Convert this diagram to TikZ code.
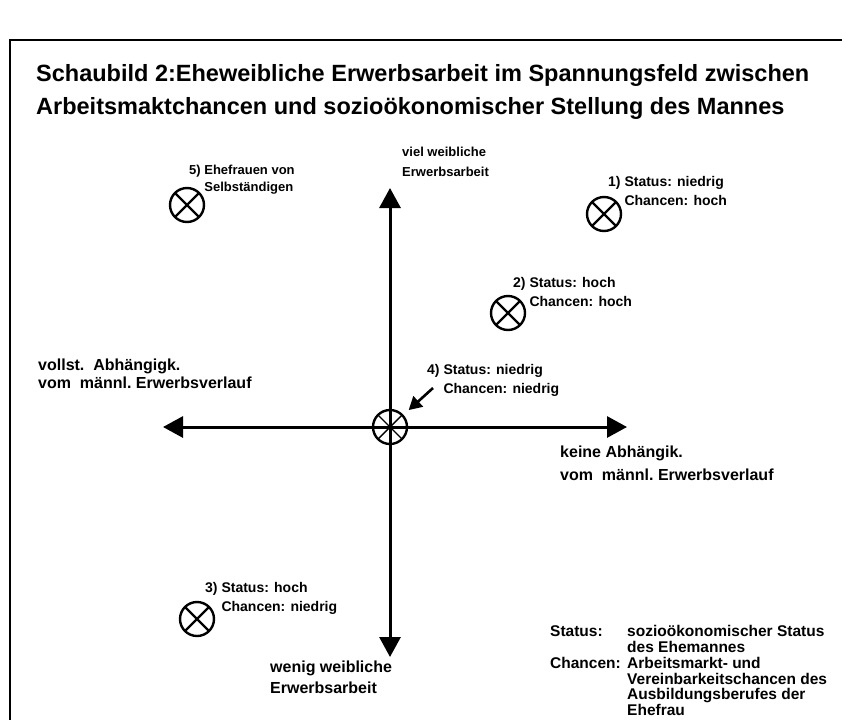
\documentclass[tikz,border=0pt]{standalone}
\usepackage{fontspec}
\setmainfont{Liberation Sans}
\usetikzlibrary{arrows.meta}

\tikzset{
	lbl/.style={font=\bfseries\fontsize{14}{19}\selectfont, align=left, inner sep=0pt, anchor=west},
	axislbl/.style={font=\bfseries\fontsize{16}{20}\selectfont, align=left, inner sep=0pt, anchor=west},
	crossmark/.style={circle, draw, line width=2.4pt, minimum size=34pt, inner sep=0pt,
		path picture={\draw[line width=2.4pt] (path picture bounding box.north west) -- (path picture bounding box.south east)
			(path picture bounding box.north east) -- (path picture bounding box.south west);}},
	wheel/.style={circle, draw, line width=2.4pt, minimum size=34pt, inner sep=0pt,
		path picture={\draw[line width=1.4pt] (path picture bounding box.north west) -- (path picture bounding box.south east)
			(path picture bounding box.north east) -- (path picture bounding box.south west);}},
	axis/.style={line width=3pt, {Triangle[length=20pt,width=21pt]}-{Triangle[length=20pt,width=21pt]}},
	pointer/.style={line width=2.6pt, -{Triangle[length=13pt,width=14pt]}}
}

\begin{document}
\begin{tikzpicture}[x=1pt,y=-1pt]
	\useasboundingbox (0,0) rectangle (842,720);
	\draw[line width=1.6pt] (842,40) -- (10,40) -- (10,720);

	\node[font=\bfseries\fontsize{23.5}{33}\selectfont, align=left, inner sep=0pt, anchor=west] (title) at (36,91.5)
		{Schaubild 2:Eheweibliche Erwerbsarbeit im Spannungsfeld zwischen\\
		 Arbeitsmaktchancen und sozioökonomischer Stellung des Mannes};

	% axes
	\coordinate (top) at (390,188);
	\coordinate (bottom) at (390,657);
	\coordinate (left) at (163,427);
	\coordinate (right) at (627,427);
	\draw[axis] (bottom) -- (top);
	\draw[axis] (left) -- (right);
	\node[wheel] (ctr) at (390,427) {};

	\node[lbl, font=\bfseries\fontsize{13}{20}\selectfont] (viel) at (402,162) {viel weibliche\\Erwerbsarbeit};
	\node[axislbl, font=\bfseries\fontsize{16}{21}\selectfont] (wenig) at (270,677.5) {wenig weibliche\\Erwerbsarbeit};
	\node[axislbl, font=\bfseries\fontsize{16}{18}\selectfont] (vollst) at (38,374) {vollst.\ \ Abhängigk.\\vom\ \ männl.\ Erwerbsverlauf};
	\node[axislbl, font=\bfseries\fontsize{16}{23}\selectfont] (keine) at (560,463.5) {keine Abhängik.\\vom\ \ männl.\ Erwerbsverlauf};

	% cases
	\node[crossmark] (s1) at (604,214) {};
	\node[lbl] (l1) at (608,192.5) {1) Status: niedrig\\\phantom{1) }Chancen: hoch};
	\node[crossmark] (s2) at (508,313) {};
	\node[lbl] (l2) at (513,293.5) {2) Status: hoch\\\phantom{2) }Chancen: hoch};
	\node[crossmark] (s3) at (197,619) {};
	\node[lbl] (l3) at (205,598) {3) Status: hoch\\\phantom{3) }Chancen: niedrig};
	\node[lbl] (l4) at (427,380.5) {4) Status: niedrig\\\phantom{4) }Chancen: niedrig};
	\coordinate (a4) at (433,388);
	\draw[pointer, shorten >=7pt] (a4) -- (ctr);
	\node[crossmark] (s5) at (187,205) {};
	\node[lbl, font=\bfseries\fontsize{13}{17}\selectfont] (l5) at (189,179.5) {5) Ehefrauen von\\\phantom{5) }Selbständigen};

	% legend
	\node[font=\bfseries\fontsize{15.5}{15.5}\selectfont, inner sep=0pt, anchor=north west] (legend) at (550,625)
		{\begin{tabular}{@{}p{77pt}@{}l@{}}
		Status: & sozioökonomischer Status\\
		        & des Ehemannes\\
		Chancen: & Arbeitsmarkt- und\\
		        & Vereinbarkeitschancen des\\
		        & Ausbildungsberufes der\\
		        & Ehefrau
		\end{tabular}};
\end{tikzpicture}
\end{document}
